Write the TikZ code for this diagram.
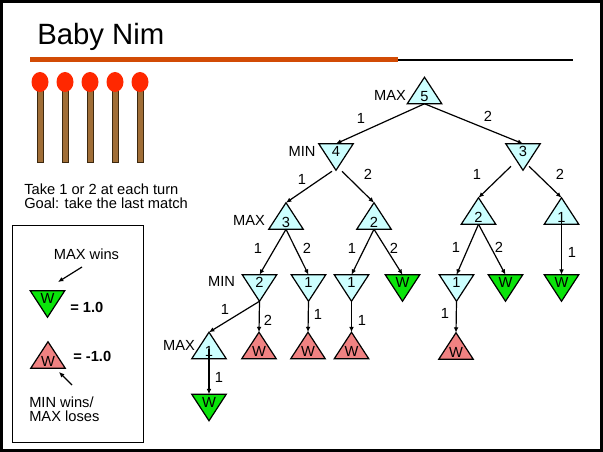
\documentclass[tikz,border=0pt]{standalone}
\usepackage{fontspec}
\setmainfont{Liberation Sans}
\usetikzlibrary{arrows.meta,calc}

\definecolor{posfill}{RGB}{204,255,255}
\definecolor{winfill}{RGB}{10,228,10}
\definecolor{losefill}{RGB}{240,130,130}
\definecolor{matchhead}{RGB}{255,40,0}
\definecolor{stickcol}{RGB}{160,110,55}
\definecolor{stickedge}{RGB}{60,40,15}
\definecolor{rulecol}{RGB}{210,75,5}

\tikzset{
  tribox/.style={rectangle, inner sep=0pt, minimum width=25.5pt, minimum height=19.5pt},
  tri/.style={draw=black, line width=0.9pt, line join=miter},
  txt/.style={font=\fontsize{11}{13}\selectfont, inner sep=0pt},
  boldtxt/.style={font=\fontsize{11}{13}\selectfont\bfseries, inner sep=0pt},
  move/.style={draw, line width=0.9pt, -{Latex[length=4pt,width=3.5pt]}},
}

% triangle pointing up: name, x, y, fill, text near the base
\newcommand{\UpTri}[5]{%
  \node[tribox] (#1) at (#2,#3) {};
  \draw[tri, fill=#4] (#1.south west) -- (#1.north) -- (#1.south east) -- cycle;
  \node[txt] (#1-t) at ($(#1.south)+(0,-7)$) {#5};
}
% triangle pointing down: name, x, y, fill, text near the base
\newcommand{\DownTri}[5]{%
  \node[tribox] (#1) at (#2,#3) {};
  \draw[tri, fill=#4] (#1.north west) -- (#1.south) -- (#1.north east) -- cycle;
  \node[txt] (#1-t) at ($(#1.north)+(0,8)$) {#5};
}

\begin{document}
\begin{tikzpicture}[x=0.75pt,y=-0.75pt]
\useasboundingbox (0,0) rectangle (603,452);
\fill[white] (0,0) rectangle (603,452);
\draw[line width=2.25pt] (1.5,1.5) rectangle (601.5,450.5);

% title and rule
\node[anchor=base west, font=\fontsize{22}{26}\selectfont, inner sep=0pt] (title) at (37,45) {Baby Nim};
\fill[rulecol] (30,57.5) rectangle (398,62.5);
\draw[line width=0.9pt] (398,60) -- (573,60);

% five matches
\foreach \x in {40,65,90,115,140} {
  \draw[fill=stickcol, draw=stickedge, line width=0.6pt] (\x-3,90) rectangle (\x+3,162);
  \fill[matchhead] (\x,82) ellipse [x radius=8.5, y radius=10];
}

\node[txt, anchor=base west] (rule1) at (24,194.5) {Take 1 or 2 at each turn};
\node[txt, anchor=base west] (rule2) at (24,208.5) {Goal: take the last match};

% legend
\draw[line width=0.75pt] (12,226) rectangle (143,442);
\node[txt] (maxwins) at (86.5,254) {MAX wins};
\DownTri{lgw}{47.5}{304}{winfill}{W}
\node[boldtxt, anchor=west] (lgwv) at (70,307.5) {= 1.0};
\UpTri{lgl}{48}{355}{losefill}{W}
\node[boldtxt, anchor=west] (lglv) at (73,356) {= -1.0};
\node[txt, anchor=base west] (minwins) at (29,407) {MIN wins/};
\node[txt, anchor=base west] (maxloses) at (29,421) {MAX loses};
\coordinate (a1s) at (82,267);
\coordinate (a1e) at (58,282);
\coordinate (a2s) at (72,385);
\coordinate (a2e) at (59,372);
\draw[move] (a1s) -- (a1e);
\draw[move] (a2s) -- (a2e);

% game tree
\UpTri{root}{424.5}{90.5}{posfill}{5}
\DownTri{m4}{336}{157}{posfill}{4}
\DownTri{r3}{523}{157}{posfill}{3}
\UpTri{x3}{286}{216}{posfill}{3}
\UpTri{l2}{374}{216}{posfill}{2}
\UpTri{r2}{478.5}{211}{posfill}{2}
\UpTri{r1}{561.5}{211}{posfill}{1}
\DownTri{n2}{259.5}{288}{posfill}{2}
\DownTri{a1}{308.5}{288}{posfill}{1}
\DownTri{b1}{351.5}{288}{posfill}{1}
\DownTri{wg1}{402.5}{288}{winfill}{W}
\DownTri{c1}{456.5}{288}{posfill}{1}
\DownTri{wg2}{505.5}{288}{winfill}{W}
\DownTri{wg3}{561.5}{288}{winfill}{W}
\UpTri{x1}{209}{345.5}{posfill}{1}
\UpTri{wr1}{259}{345.5}{losefill}{W}
\UpTri{wr2}{308}{345.5}{losefill}{W}
\UpTri{wr3}{351.5}{345.5}{losefill}{W}
\UpTri{wr4}{456}{346}{losefill}{W}
\DownTri{wg4}{209}{407.5}{winfill}{W}

% player labels
\node[txt] (p0) at (390,95) {MAX};
\node[txt] (p1) at (302,151) {MIN};
\node[txt] (p2) at (249,220.5) {MAX};
\node[txt] (p3) at (221.5,281.5) {MIN};
\node[txt] (p4) at (179,345.5) {MAX};

% moves
\draw[move] (root.south) -- (m4.north);
\draw[move] (root.south) -- (r3.north);
\draw[move] ($(m4.south)+(-4,1)$) -- (x3.north);
\draw[move] ($(m4.south)+(6,1)$) -- (l2.north);
\draw[move] ($(r3.south)+(-12,-4)$) -- (r2.north);
\draw[move] ($(r3.south)+(6,-4)$) -- (r1.north);
\draw[move] (x3.south) -- (n2.north);
\draw[move] (x3.south) -- (a1.north);
\draw[move] (l2.south) -- (b1.north);
\draw[move] (l2.south) -- (wg1.north);
\draw[move] (r2.south) -- (c1.north);
\draw[move] (r2.south) -- (wg2.north);
\draw[move] ($(r1.center)+(0,4)$) -- (wg3.north);
\draw[move] (n2.south) -- (x1.north);
\draw[move] (n2.south) -- (wr1.north);
\draw[move] (a1.south) -- (wr2.north);
\draw[move] (b1.south) -- (wr3.north);
\draw[move] (c1.south) -- (wr4.north);
\draw[move] ($(x1.center)+(0,3)$) -- (wg4.north);

% move labels (matches taken)
\node[txt] (e01) at (361,118) {1};
\node[txt] (e02) at (488,116) {2};
\node[txt] (e11) at (302,179) {1};
\node[txt] (e12) at (368,174) {2};
\node[txt] (e21) at (477,174) {1};
\node[txt] (e22) at (560,174) {2};
\node[txt] (e31) at (258,248) {1};
\node[txt] (e32) at (307,248) {2};
\node[txt] (e41) at (352,248) {1};
\node[txt] (e42) at (394,248) {2};
\node[txt] (e51) at (456,247) {1};
\node[txt] (e52) at (499,247) {2};
\node[txt] (e61) at (572,252) {1};
\node[txt] (e71) at (225,309) {1};
\node[txt] (e72) at (268,320) {2};
\node[txt] (e81) at (318,314) {1};
\node[txt] (e91) at (362,320) {1};
\node[txt] (ea1) at (445,313) {1};
\node[txt] (eb1) at (219,377) {1};
\end{tikzpicture}
\end{document}
